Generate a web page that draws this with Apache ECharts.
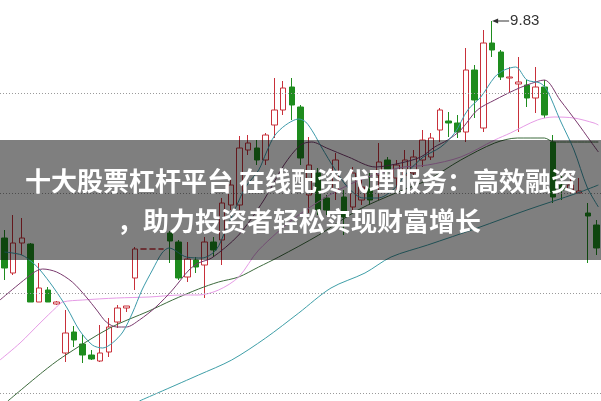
<!DOCTYPE html>
<html><head><meta charset="utf-8">
<script src="https://cdn.jsdelivr.net/npm/echarts/dist/echarts.min.js"></script>
<style>html,body{margin:0;padding:0;background:#fff;overflow:hidden}#c{width:601px;height:401px}</style>
</head><body><div id="c"></div>
<script>
// ---- data (prices) ----
const CATEGORIES = Array.from({length: 69}, (_, i) => 'K' + (i + 1));
const OPEN = [8.745,8.570,8.720,8.715,8.425,8.485,8.415,8.170,8.275,8.215, 8.160,8.130,8.175,8.325,8.395,8.545,8.690,8.690,8.690,8.770, 8.725,8.550,8.635,8.610,8.725,8.735,8.910,8.910,9.185,9.195, 9.135,9.310,9.385,9.500,9.400,8.960,9.070,8.945,8.985,8.950, 8.900,8.935,8.995,9.060,9.135,9.045,9.060,9.070,9.135,9.150, 9.285,9.330,9.320,9.275,9.585,9.295,9.720,9.675,9.545,9.515, 9.510,9.445,9.500,9.225,9.010,8.985,8.970,8.870,8.810];
const CLOSE = [8.595,8.720,8.745,8.425,8.495,8.425,8.425,8.270,8.235,8.160, 8.140,8.170,8.300,8.395,8.405,8.690,8.690,8.690,8.690,8.730, 8.545,8.640,8.600,8.725,8.685,8.920,9.010,9.195,9.220,9.135, 9.260,9.385,9.495,9.410,9.145,9.110,8.885,8.885,9.135,8.850, 9.070,9.000,8.935,9.125,9.085,9.110,9.135,9.150,9.235,9.245, 9.385,9.320,9.275,9.585,9.435,9.720,9.685,9.550,9.550,9.525, 9.445,9.500,9.360,8.950,8.985,9.010,8.980,8.855,8.695];
const LOW = [8.535,8.560,8.660,8.425,8.425,8.425,8.410,8.125,8.200,8.120, 8.135,8.125,8.150,8.295,8.375,8.485,8.690,8.690,8.690,8.620, 8.535,8.525,8.570,8.445,8.650,8.610,8.885,8.885,9.160,9.110, 9.110,9.245,9.360,9.335,9.110,8.870,8.860,8.860,8.935,8.760, 8.875,8.910,8.910,8.935,9.060,8.985,9.035,9.050,9.100,9.135, 9.225,9.250,9.245,9.225,9.345,9.275,9.650,9.535,9.475,9.275, 9.400,9.370,9.345,8.920,8.935,8.970,8.970,8.620,8.660];
const HIGH = [8.785,8.860,8.845,8.720,8.620,8.500,8.430,8.385,8.305,8.260, 8.185,8.310,8.345,8.410,8.405,8.700,8.690,8.690,8.690,8.780, 8.735,8.725,8.650,8.750,8.750,8.945,9.035,9.255,9.260,9.235, 9.270,9.545,9.530,9.545,9.410,9.250,9.095,8.960,9.170,8.985, 9.100,9.035,9.070,9.220,9.150,9.135,9.185,9.185,9.285,9.270, 9.395,9.375,9.360,9.695,9.610,9.785,9.830,9.685,9.600,9.650, 9.535,9.600,9.535,9.260,9.060,9.060,9.045,8.920,8.835];

// moving-average lines, read as [bar position, price]
const MA5 = [[0,8.675],[2.0,8.660],[3.3,8.620],[4.1,8.585],[5.6,8.500],[7.2,8.395],[8.6,8.285],[10.1,8.210],[11.3,8.195],[12.4,8.220],[13.6,8.275],[14.7,8.370],[15.8,8.485],[17.0,8.585],[18.1,8.670],[18.9,8.695],[20.9,8.650],[22.7,8.645],[24.3,8.685],[25.4,8.785],[26.6,8.900],[27.7,9.000],[29.2,9.085],[30.1,9.175],[31.0,9.255],[32.3,9.310],[33.8,9.340],[34.6,9.325],[35.5,9.270],[36.4,9.200],[38.0,9.085],[39.5,8.995],[41.2,8.945],[42.9,8.945],[44.6,8.985],[46.3,9.075],[48.1,9.150],[50.1,9.200],[51.7,9.270],[53.2,9.385],[54.7,9.450],[56.3,9.550],[57.4,9.585],[58.7,9.600],[60.0,9.535],[61.5,9.520],[62.3,9.485],[63.8,9.335],[65.4,9.185],[66.9,9.000],[68.2,8.900]];
const MA10 = [[-0.5,8.435],[3.3,8.570],[4.4,8.590],[6.0,8.575],[7.8,8.525],[9.4,8.450],[10.6,8.385],[11.7,8.325],[12.9,8.300],[14.0,8.300],[15.5,8.335],[17.4,8.400],[19.3,8.485],[21.2,8.585],[22.3,8.620],[23.8,8.645],[26.9,8.760],[29.8,8.935],[32.1,9.110],[34.0,9.210],[35.3,9.225],[37.0,9.195],[39.5,9.150],[42.6,9.100],[45.5,9.120],[47.8,9.150],[49.4,9.200],[50.9,9.235],[52.4,9.285],[54.3,9.385],[56.3,9.435],[58.6,9.485],[60.0,9.510],[62.0,9.535],[63.8,9.435],[65.8,9.320],[67.2,9.235],[68.2,9.175]];
const MA20 = [[-0.5,8.135],[1.8,8.220],[4.1,8.320],[6.0,8.400],[6.7,8.425],[9.0,8.435],[12.9,8.445],[16.6,8.450],[20.4,8.460],[22.3,8.460],[24.6,8.485],[26.9,8.550],[29.2,8.685],[33.8,8.860],[39.5,9.010],[45.2,9.095],[48.6,9.110],[52.4,9.150],[56.3,9.235],[58.1,9.270],[61.2,9.335],[63.1,9.350],[65.4,9.345],[67.7,9.320],[68.2,9.310]];
const MA30 = [[0.4,7.930],[4.4,8.075],[6.7,8.150],[12.1,8.295],[16.6,8.380],[19.3,8.435],[22.3,8.490],[24.6,8.525],[26.9,8.550],[29.2,8.600],[31.5,8.650],[36.1,8.760],[40.6,8.885],[45.2,8.975],[48.6,9.035],[52.4,9.135],[56.3,9.220],[58.9,9.245],[62.0,9.245],[63.1,9.225],[68.2,9.225]];
const MA60 = [[15.5,7.930],[22.3,8.060],[26.1,8.135],[30.0,8.245],[33.8,8.370],[37.5,8.495],[41.4,8.570],[44.4,8.650],[48.6,8.710],[54.3,8.795],[60.0,8.885],[65.8,8.970],[68.2,9.010]];

const GRID_LEVELS = [9.47, 8.97, 8.47, 7.97];
const MAX_LABEL = '9.83';
const MAX_INDEX = 56, MAX_PRICE = 9.83;
const TITLE_1 = '十大股票杠杆平台 在线配资代理服务：高效融资';
const TITLE_2 = '，助力投资者轻松实现财富增长';

const UP = '#c8303a', DOWN = '#1e8c1e';
const chart = echarts.init(document.getElementById('c'), null, {renderer: 'canvas'});
const candles = OPEN.map((o, i) => [o, CLOSE[i], LOW[i], HIGH[i]]);
function maLine(data, color) {
  return {type: 'line', xAxisIndex: 1, data: data, smooth: 0.3, symbol: 'none',
    lineStyle: {color: color, width: 1}, z: 3, silent: true, clip: true};
}
chart.setOption({
  animation: false,
  backgroundColor: '#fff',
  grid: {left: 0, right: -3, top: 0, bottom: 0, containLabel: false},
  xAxis: [
    {type: 'category', data: CATEGORIES, show: false, boundaryGap: true},
    {type: 'value', min: -0.5, max: 68.5, show: false}
  ],
  yAxis: {type: 'value', min: 7.93, max: 9.935, show: false, splitLine: {show: false}, scale: true},
  series: [
    {
      type: 'candlestick', data: candles, barWidth: 6, z: 2,
      itemStyle: {color: 'rgba(255,255,255,0)', color0: DOWN, borderColor: UP, borderColor0: DOWN, borderWidth: 1},
      markLine: {
        silent: true, symbol: 'none', label: {show: false},
        lineStyle: {color: '#9a9a9a', type: [1, 2], width: 1},
        data: GRID_LEVELS.map(v => ({yAxis: v}))
      },
      markPoint: {
        silent: true,
        data: [
          {coord: [MAX_INDEX, MAX_PRICE], symbol: 'triangle', symbolSize: [5, 6], symbolRotate: 90, symbolOffset: [3, 0],
           itemStyle: {color: '#333'}, label: {show: false}},
          {coord: [MAX_INDEX, MAX_PRICE], symbol: 'rect', symbolSize: [14, 1], symbolOffset: [10, 0],
           itemStyle: {color: '#333'},
           label: {show: true, position: 'right', distance: 1, formatter: MAX_LABEL, color: '#333', fontSize: 15, fontFamily: 'Arial, Liberation Sans, sans-serif'}}
        ]
      }
    },
    maLine(MA60, '#3f9fa8'),
    maLine(MA30, '#3d6b3d'),
    maLine(MA20, '#e69be6'),
    maLine(MA10, '#7a3a6e'),
    maLine(MA5, '#3c9aaa')
  ],
  graphic: [
    {type: 'rect', left: 0, top: 140, z: 100, shape: {width: 601, height: 120}, style: {fill: 'rgba(0,0,0,0.5)'}, silent: true},
    {type: 'text', x: 301, y: 181, z: 101, silent: true,
     style: {text: TITLE_1, fill: '#fff', font: 'bold 26px "Noto Sans CJK SC"', textAlign: 'center', textVerticalAlign: 'middle'}},
    {type: 'text', x: 299, y: 221, z: 101, silent: true,
     style: {text: TITLE_2, fill: '#fff', font: 'bold 26px "Noto Sans CJK SC"', textAlign: 'center', textVerticalAlign: 'middle'}}
  ]
});
</script></body></html>
